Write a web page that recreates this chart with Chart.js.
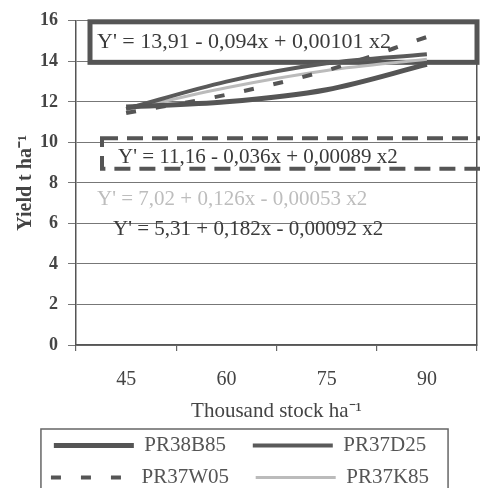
<!DOCTYPE html>
<html>
<head>
<meta charset="utf-8">
<script src="https://cdn.jsdelivr.net/npm/chart.js@4.4.0/dist/chart.umd.min.js"></script>
<style>
  html, body { margin: 0; padding: 0; background: #fff; overflow: hidden; }
  #wrap { width: 480px; height: 498px; }
</style>
</head>
<body>
<div id="wrap"><canvas id="chartYield" width="480" height="498"></canvas></div>
<script>
// densidades (mil plantas/ha) y rendimiento
const densities = ['45', '60', '75', '90'];
const pr38b85 = [11.75, 12.0, 12.6, 13.85];
const pr37d25 = [11.65, 13.0, 13.9, 14.35];
const pr37w05 = [11.45, 12.35, 13.55, 15.2];
const pr37k85 = [11.6, 12.7, 13.55, 14.1];
const yTicks = [0, 2, 4, 6, 8, 10, 12, 14, 16];

const equations = [
  "Y' = 13,91 - 0,094x + 0,00101 x2",
  "Y' = 11,16 - 0,036x + 0,00089 x2",
  "Y' = 7,02 + 0,126x - 0,00053 x2",
  "Y' = 5,31 + 0,182x - 0,00092 x2",
];

const SERIF = '"Liberation Serif", "Times New Roman", serif';
const INK = '#555';

// cajas y textos de las ecuaciones (x: px desde el eje, y: unidades del eje)
const eqLayout = [
  { dx: 21, y: 14.95, size: 22, color: '#3a3a3a' },
  { dx: 42, y: 9.24, size: 21, color: '#3a3a3a' },
  { dx: 21, y: 7.2, size: 21, color: '#bdbdbd' },
  { dx: 37, y: 5.69, size: 21, color: '#3a3a3a' },
];

const equationPlugin = {
  id: 'equations',
  beforeDatasetsDraw(chart) {
    const { ctx, chartArea: ca } = chart;
    const y = chart.scales.y;
    ctx.save();
    // caja gruesa (PR38B85)
    ctx.strokeStyle = INK;
    ctx.lineWidth = 5;
    const t1 = y.getPixelForValue(15.95), b1 = y.getPixelForValue(13.95);
    ctx.strokeRect(ca.left + 14, t1, ca.right - ca.left - 14, b1 - t1);
    // caja punteada (PR37W05)
    ctx.lineWidth = 4;
    ctx.setLineDash([16, 9]);
    const t2 = y.getPixelForValue(10.2), b2 = y.getPixelForValue(8.7);
    ctx.strokeRect(ca.left + 26, t2, chart.width + 20 - ca.left, b2 - t2);
    ctx.setLineDash([]);
    ctx.textBaseline = 'middle';
    ctx.textAlign = 'left';
    equations.forEach((txt, i) => {
      const e = eqLayout[i];
      ctx.font = e.size + 'px ' + SERIF;
      ctx.fillStyle = e.color;
      ctx.fillText(txt, ca.left + e.dx, y.getPixelForValue(e.y));
    });
    ctx.restore();
  },
  afterDraw(chart) {
    // marco de la leyenda
    const lg = chart.legend;
    if (!lg || !lg.legendHitBoxes.length) return;
    const hb = lg.legendHitBoxes;
    const left = Math.min(...hb.map(h => h.left)) - 10;
    const right = Math.max(...hb.map(h => h.left + h.width)) + 19;
    const { ctx } = chart;
    ctx.save();
    ctx.strokeStyle = '#666';
    ctx.lineWidth = 1.5;
    ctx.strokeRect(left, lg.top + 5, right - left, chart.height);
    ctx.restore();
  },
};

function makeSeries(label, data, color, width, dash) {
  return {
    label: label,
    data: data,
    borderColor: color,
    backgroundColor: color,
    borderWidth: width,
    borderDash: dash || [],
    pointRadius: 0,
    fill: false,
    cubicInterpolationMode: 'monotone',
  };
}

const ctx = document.getElementById('chartYield').getContext('2d');
new Chart(ctx, {
  type: 'line',
  data: {
    labels: densities,
    datasets: [
      makeSeries('PR38B85', pr38b85, '#555', 5),
      makeSeries('PR37D25', pr37d25, '#5a5a5a', 4),
      makeSeries('PR37W05', pr37w05, '#555', 4, [10, 20]),
      makeSeries('PR37K85', pr37k85, '#bbb', 3),
    ],
  },
  options: {
    responsive: false,
    animation: false,
    layout: { padding: { top: 16, left: 0, right: 0, bottom: 0 } },
    plugins: {
      tooltip: { enabled: false },
      legend: {
        position: 'bottom',
        labels: {
          usePointStyle: true,
          pointStyle: 'line',
          pointStyleWidth: 80,
          padding: 11,
          color: INK,
          font: { family: SERIF, size: 21 },
          generateLabels(chart) {
            const items = Chart.defaults.plugins.legend.labels.generateLabels(chart);
            items.forEach((it, i) => {
              const ds = chart.data.datasets[it.datasetIndex];
              it.lineDash = ds.borderDash;
              it.lineWidth = ds.borderWidth;
              // columna izquierda un poco más ancha, como en el original
              if (i % 2 === 0) it.text = it.text + '\u00A0\u00A0\u00A0';
            });
            return items;
          },
        },
      },
    },
    scales: {
      x: {
        offset: true,
        grid: { offset: true, drawOnChartArea: false, tickLength: 6, color: '#666', lineWidth: 1.2 },
        border: { color: '#555', width: 1.5 },
        ticks: { color: '#444', padding: 17, font: { family: SERIF, size: 20 } },
        title: {
          display: true,
          text: 'Thousand stock ha⁻¹',
          color: '#444',
          padding: { top: 0, bottom: 0 },
          font: { family: SERIF, size: 21 },
        },
        afterFit(scale) { scale.height = 79; },
      },
      y: {
        min: 0,
        max: 16,
        afterBuildTicks(scale) { scale.ticks = yTicks.map(v => ({ value: v })); },
        grid: { color: '#777', lineWidth: 1, tickLength: 8 },
        border: { color: '#555', width: 1.5 },
        ticks: { color: '#444', padding: 10, font: { family: SERIF, size: 18, weight: 'bold' } },
        title: {
          display: true,
          text: 'Yield t ha⁻¹',
          color: '#444',
          padding: { top: 14, bottom: 0 },
          font: { family: SERIF, size: 20, weight: 'bold' },
        },
        afterFit(scale) { scale.width = 76; },
      },
      yRight: {
        position: 'right',
        min: 0,
        max: 16,
        grid: { drawOnChartArea: false, drawTicks: false },
        border: { color: '#555', width: 1.5 },
        ticks: { display: false },
        afterFit(scale) { scale.width = 3; },
      },
    },
  },
  plugins: [equationPlugin],
});
</script>
</body>
</html>
